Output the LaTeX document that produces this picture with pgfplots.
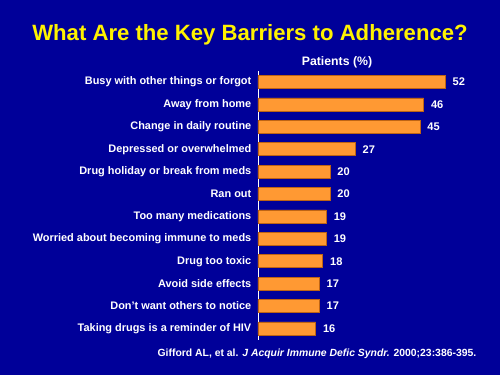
\documentclass[border=0pt]{standalone}
\usepackage{pgfplots}
\pgfplotsset{compat=1.18}
\usepackage{fontspec}
\setmainfont{Liberation Sans}
\definecolor{bg}{RGB}{0,0,153}
\definecolor{barfill}{RGB}{255,153,51}
\definecolor{baredge}{RGB}{190,100,20}
\begin{document}
\begin{tikzpicture}
\fill[bg] (0pt,0pt) rectangle (375pt,281.25pt);
\node[text=yellow,font=\bfseries\fontsize{16.6}{18}\selectfont] at (187.5pt,255pt) {What Are the Key Barriers to Adherence?};
\node[text=white,font=\bfseries\fontsize{9.2}{10}\selectfont] at (252.75pt,234.75pt) {Patients (\%)};
\node[text=white,font=\bfseries\fontsize{7.8}{9}\selectfont,anchor=east] at (360.75pt,15.75pt) {Gifford AL, et al. \textit{J Acquir Immune Defic Syndr.} 2000;23:386-395.};
\begin{axis}[
  at={(193.5pt,26.55pt)}, anchor=south west,
  scale only axis,
  width=162pt, height=201.6pt,
  xmin=0, xmax=60,
  ymin=-0.5, ymax=11.5,
  y dir=reverse,
  axis x line=none,
  axis y line*=left,
  axis line style={white, line width=0.7pt, -},
  ytick={0,...,11},
  yticklabels={Busy with other things or forgot,Away from home,Change in daily routine,Depressed or overwhelmed,Drug holiday or break from meds,Ran out,Too many medications,Worried about becoming immune to meds,Drug too toxic,Avoid side effects,Don't want others to notice,Taking drugs is a reminder of HIV},
  yticklabel style={text=white,font=\bfseries\fontsize{8.2}{9}\selectfont,xshift=-1.5pt},
  major tick length=0pt,
  /pgf/number format/assume math mode=true,
  xbar,
  bar width=0.58,
  nodes near coords,
  nodes near coords style={text=white,font=\bfseries\fontsize{8.3}{9}\selectfont,xshift=2pt},
  clip=false,
]
\addplot[fill=barfill, draw=baredge, line width=0.5pt] coordinates {
(52,0) (46,1) (45,2) (27,3) (20,4) (20,5) (19,6) (19,7) (18,8) (17,9) (17,10) (16,11)
};
\end{axis}
\end{tikzpicture}
\end{document}
